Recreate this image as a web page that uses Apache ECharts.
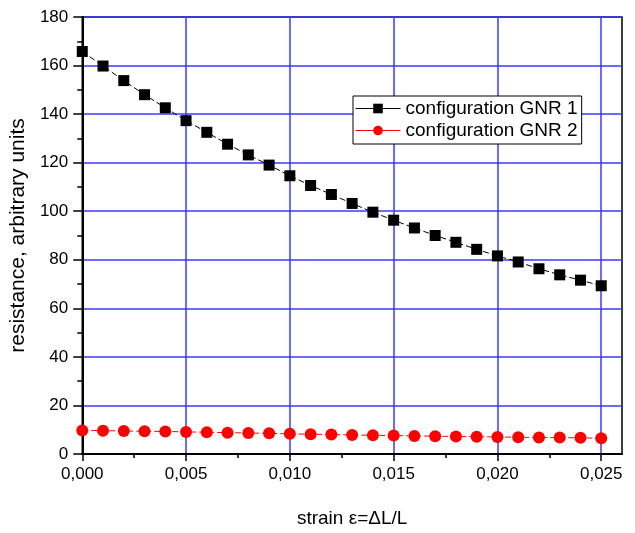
<!DOCTYPE html>
<html>
<head>
<meta charset="utf-8">
<script src="https://cdn.jsdelivr.net/npm/echarts@6/dist/echarts.min.js"></script>
<style>
  html, body { margin: 0; padding: 0; background: #fff; }
</style>
</head>
<body>
<div id="chart" style="width: 635px; height: 533px"></div>
<script>
// strain values (x)
const strain = [0, 0.001, 0.002, 0.003, 0.004, 0.005, 0.006, 0.007, 0.008, 0.009,
  0.010, 0.011, 0.012, 0.013, 0.014, 0.015, 0.016, 0.017, 0.018, 0.019,
  0.020, 0.021, 0.022, 0.023, 0.024, 0.025]
// resistance, configuration GNR 1
const gnr1 = [165.8, 159.8, 153.8, 148.0, 142.6, 137.3, 132.5, 127.6, 123.2, 119.0,
  114.6, 110.6, 106.9, 103.2, 99.6, 96.3, 93.1, 90.0, 87.2, 84.3,
  81.6, 79.1, 76.3, 73.8, 71.6, 69.3]
// resistance, configuration GNR 2
const gnr2 = [9.7, 9.6, 9.5, 9.35, 9.3, 9.1, 8.95, 8.8, 8.65, 8.5,
  8.3, 8.15, 8.0, 7.85, 7.7, 7.6, 7.45, 7.35, 7.2, 7.15,
  7.0, 6.9, 6.8, 6.75, 6.65, 6.5]
const xTicks = [0, 0.005, 0.010, 0.015, 0.020, 0.025]
const seriesNames = ['configuration GNR 1', 'configuration GNR 2']

const font = 'Liberation Sans, Arial, sans-serif'
const gridBlue = '#3a3aff'

const option = {
  animation: false,
  grid: {
    left: 82,
    top: 17,
    right: 13,
    bottom: 73,
    show: true,
    borderColor: '#000',
    borderWidth: 1.5,
  },
  legend: {
    left: 353,
    top: 96,
    orient: 'vertical',
    backgroundColor: '#fff',
    borderColor: '#000',
    borderWidth: 1,
    borderRadius: 0,
    padding: [3, 4, 4, 2],
    itemGap: 3,
    itemWidth: 45,
    itemHeight: 12,
    lineStyle: { type: 'solid', width: 1 },
    textStyle: { fontFamily: font, fontSize: 19, color: '#000' },
    data: seriesNames,
  },
  xAxis: {
    type: 'value',
    min: 0,
    max: 0.026,
    interval: 0.005,
    name: 'strain ε=ΔL/L',
    nameLocation: 'middle',
    nameGap: 55,
    nameTextStyle: { fontFamily: font, fontSize: 19, color: '#000', verticalAlign: 'top' },
    axisLine: { lineStyle: { color: '#000', width: 2 } },
    axisTick: { show: true, inside: false, length: 7, lineStyle: { width: 1.5 }, customValues: xTicks },
    minorTick: { show: true, splitNumber: 2, length: 4, lineStyle: { color: '#000', width: 1.5 } },
    axisLabel: {
      fontFamily: font,
      fontSize: 17,
      color: '#000',
      margin: 12,
      customValues: xTicks,
      formatter: (v) => v.toFixed(3).replace('.', ','),
    },
    splitLine: { show: true, lineStyle: { color: gridBlue, width: 1.5 } },
  },
  yAxis: {
    type: 'value',
    min: 0,
    max: 180,
    interval: 20,
    name: 'resistance, arbitrary units',
    nameLocation: 'middle',
    nameGap: 44,
    nameTextStyle: { fontFamily: font, fontSize: 21, color: '#000' },
    axisLine: { show: true, lineStyle: { color: '#000', width: 2 } },
    axisTick: { show: true, inside: false, length: 9, lineStyle: { width: 1.5 } },
    minorTick: { show: true, splitNumber: 2, length: 5, lineStyle: { color: '#000', width: 1.5 } },
    axisLabel: { fontFamily: font, fontSize: 17, color: '#000', margin: 14 },
    splitLine: { show: true, lineStyle: { color: gridBlue, width: 1.5 } },
  },
  series: [
    {
      name: seriesNames[0],
      type: 'line',
      data: strain.map((x, i) => [x, gnr1[i]]),
      symbol: 'rect',
      symbolSize: 11,
      itemStyle: { color: '#000' },
      lineStyle: { color: '#000', width: 1, type: [6, 3] },
      z: 3,
    },
    {
      name: seriesNames[1],
      type: 'line',
      data: strain.map((x, i) => [x, gnr2[i]]),
      symbol: 'circle',
      symbolSize: 12,
      itemStyle: { color: '#ff0000' },
      lineStyle: { color: '#ff0000', width: 1, type: [6, 3] },
      z: 2,
    },
  ],
}

const myChart = echarts.init(document.getElementById('chart'))
myChart.setOption(option)
</script>
</body>
</html>
